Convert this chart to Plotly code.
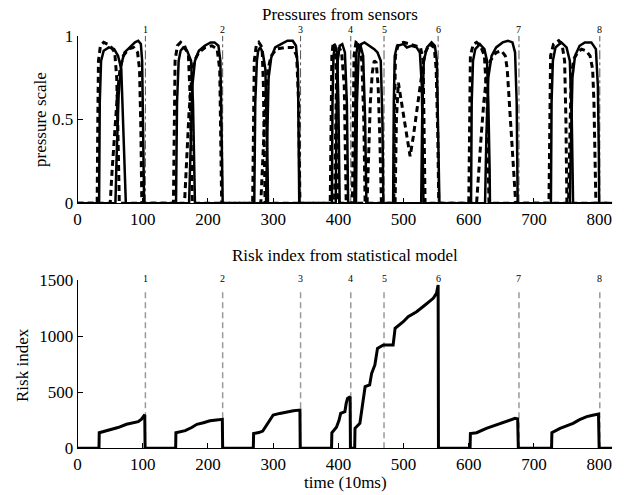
import plotly.graph_objects as go

# ---------------- data ----------------
event_t = [104, 222.5, 342, 419, 470, 553, 677, 801]
event_labels = ["1", "2", "3", "4", "5", "6", "7", "8"]

solid_a_t = [0, 33, 34, 36, 40, 48, 56, 62, 67, 70, 72, 74,
             151, 152.5, 155, 158, 162, 168, 174, 177, 179, 180,
             271, 272.5, 275, 277, 280, 284, 288, 290, 291.5, 292,
             390, 391, 392.5, 395, 398, 400, 401.5, 402,
             424.5, 425.5, 427, 430, 434, 438, 441, 443,
             484, 485, 486.5, 490, 500, 505, 512, 520, 525, 528, 530, 530.5,
             603.5, 604.5, 606.5, 610, 617, 624, 628, 630, 632, 632.5,
             726, 727, 729, 733, 742, 750, 755, 758, 760, 820]
solid_a_v = [0, 0, 0.6, 0.85, 0.91, 0.93, 0.92, 0.88, 0.8, 0.5, 0.2, 0,
             0, 0.6, 0.85, 0.91, 0.93, 0.91, 0.85, 0.6, 0.2, 0,
             0, 0.6, 0.85, 0.91, 0.93, 0.9, 0.8, 0.5, 0.2, 0,
             0, 0.6, 0.88, 0.94, 0.9, 0.6, 0.2, 0,
             0, 0.6, 0.88, 0.95, 0.94, 0.88, 0.5, 0,
             0, 0.6, 0.88, 0.94, 0.95, 0.93, 0.94, 0.93, 0.9, 0.7, 0.2, 0,
             0, 0.6, 0.85, 0.92, 0.95, 0.92, 0.85, 0.6, 0.2, 0,
             0, 0.6, 0.85, 0.93, 0.96, 0.93, 0.85, 0.5, 0, 0]

solid_b_t = [0, 58, 60, 63, 67, 72, 80, 88, 93, 97, 99, 100.5, 101.5, 102,
             171, 173, 176, 180, 186, 195, 204, 210, 216, 219, 221, 222, 222.5,
             289, 291, 293, 297, 303, 312, 322, 330, 335, 338, 339.5, 340,
             396, 397, 399, 402, 406, 410, 413, 414.5, 415,
             427, 428.5, 431, 435, 440, 448, 455, 460, 465, 467.5, 469,
             527, 528.5, 531, 536, 543, 548, 551, 553.5, 555,
             625, 627, 630, 635, 642, 652, 660, 667, 671, 673.5, 675,
             755, 757, 759, 763, 770, 778, 788, 795, 798, 799.5, 800, 820]
solid_b_v = [0, 0, 0.3, 0.65, 0.83, 0.9, 0.93, 0.96, 0.97, 0.95, 0.85, 0.5, 0.15, 0,
             0, 0.35, 0.7, 0.85, 0.91, 0.94, 0.96, 0.96, 0.94, 0.85, 0.5, 0.15, 0,
             0, 0.4, 0.75, 0.87, 0.93, 0.95, 0.97, 0.97, 0.94, 0.8, 0.4, 0,
             0, 0.5, 0.85, 0.94, 0.95, 0.9, 0.6, 0.2, 0,
             0, 0.6, 0.88, 0.95, 0.96, 0.94, 0.92, 0.9, 0.85, 0.5, 0,
             0, 0.5, 0.85, 0.93, 0.96, 0.94, 0.85, 0.4, 0,
             0, 0.4, 0.75, 0.88, 0.93, 0.96, 0.97, 0.96, 0.9, 0.6, 0,
             0, 0.4, 0.75, 0.88, 0.94, 0.96, 0.96, 0.92, 0.7, 0.3, 0, 0]

dashed_a_t = [0, 30, 31, 32, 35, 40, 46, 52, 57, 60, 62, 64,
              147, 148, 149.5, 153, 158, 164, 170, 173, 175, 176,
              268.5, 269.5, 271, 274, 278, 283, 285, 286.5, 287.5,
              387.5, 388.5, 390, 392, 395, 398, 399.5, 400,
              421.5, 422.5, 424, 427, 431, 436, 439, 441,
              485, 486, 487.5, 492, 500, 510, 520, 526, 530, 532, 533,
              600, 601, 602.5, 607, 612, 618, 624, 628, 630, 631,
              723, 724, 725.5, 730, 738, 743, 747, 749, 750.5, 820]
dashed_a_v = [0, 0, 0.5, 0.85, 0.94, 0.96, 0.95, 0.93, 0.9, 0.75, 0.4, 0,
              0, 0.5, 0.85, 0.94, 0.96, 0.94, 0.88, 0.6, 0.25, 0,
              0, 0.5, 0.85, 0.94, 0.96, 0.93, 0.7, 0.3, 0,
              0, 0.5, 0.88, 0.96, 0.94, 0.7, 0.3, 0,
              0, 0.5, 0.88, 0.96, 0.95, 0.85, 0.5, 0,
              0, 0.5, 0.88, 0.95, 0.96, 0.95, 0.94, 0.93, 0.85, 0.4, 0,
              0, 0.5, 0.88, 0.95, 0.96, 0.94, 0.88, 0.6, 0.2, 0,
              0, 0.5, 0.88, 0.95, 0.97, 0.95, 0.85, 0.5, 0, 0]

dashed_b_t = [0, 50, 53, 57, 61, 65, 70, 78, 86, 92, 95, 97, 98.5,
              164, 167, 171, 175, 179, 186, 196, 206, 214, 218, 220, 221,
              281, 284, 288, 292, 297, 305, 318, 330, 336, 339, 341,
              394, 395.5, 397.5, 401, 405, 409, 411, 412,
              444, 446.5, 449, 452, 455, 458, 461, 463.5, 466,
              487, 489, 492, 497, 503, 510, 515, 520, 525, 529, 533, 540, 547, 550, 552.5, 554,
              612, 615, 619, 623, 627, 633, 642, 650, 656, 659, 662, 666, 670, 672,
              753, 755, 757, 761, 767, 773, 780, 786, 790, 792, 794, 795, 820]
dashed_b_v = [0, 0, 0.2, 0.45, 0.65, 0.8, 0.88, 0.92, 0.93, 0.9, 0.8, 0.45, 0,
              0, 0.25, 0.55, 0.75, 0.85, 0.9, 0.93, 0.94, 0.92, 0.8, 0.4, 0,
              0, 0.3, 0.6, 0.8, 0.88, 0.92, 0.93, 0.93, 0.88, 0.6, 0,
              0, 0.5, 0.85, 0.93, 0.9, 0.7, 0.3, 0,
              0, 0.3, 0.6, 0.78, 0.85, 0.84, 0.7, 0.4, 0,
              0, 0.5, 0.72, 0.6, 0.45, 0.28, 0.4, 0.55, 0.7, 0.8, 0.9, 0.95, 0.93, 0.8, 0.4, 0,
              0, 0.2, 0.4, 0.6, 0.75, 0.85, 0.9, 0.91, 0.88, 0.8, 0.6, 0.35, 0.1, 0,
              0, 0.4, 0.75, 0.86, 0.9, 0.92, 0.91, 0.88, 0.8, 0.6, 0.2, 0, 0]

risk_t = [0, 32.8, 33.2, 40, 50, 62, 75, 85, 93, 98, 101, 103, 103.5,
          150.4, 150.8, 158, 165, 175, 183, 193, 203, 213, 222, 222.5,
          269.5, 270, 278, 284, 292, 300, 310, 320, 331, 341, 341.5,
          389.5, 390, 397, 401, 403.5, 410, 412, 414, 418, 418.5,
          425, 425.5, 433, 437, 441, 448, 451, 456, 460, 469, 484, 487, 494, 500, 507,
          520, 533, 540, 545.5, 550.5, 553, 553.5,
          602, 602.5, 612, 627, 648, 660, 671, 675, 676,
          727, 727.5, 740, 760, 770, 781, 790, 799, 800, 820]
risk_v = [0, 0, 139, 150, 163, 185, 214, 225, 237, 260, 291, 300, 0,
          0, 139, 145, 157, 185, 214, 228, 246, 253, 258, 0,
          0, 131, 140, 154, 230, 297, 311, 325, 335, 341, 0,
          0, 139, 187, 250, 312, 327, 400, 445, 460, 0,
          0, 178, 223, 400, 549, 565, 668, 743, 891, 921, 921, 1069, 1099, 1130, 1173,
          1217, 1277, 1310, 1337, 1381, 1455, 0,
          0, 131, 139, 178, 223, 245, 267, 262, 0,
          0, 139, 178, 223, 255, 282, 295, 306, 0, 0]

top_event_top = 1.0
bottom_event_top = 1400

# ---------------- figure ----------------
W, H = 624, 495
SERIF = "Liberation Serif"

fig = go.Figure()

def evline(tops):
    xs, ys = [], []
    for t in event_t:
        xs += [t, t, None]
        ys += [0, tops, None]
    return xs, ys

ex, ey = evline(top_event_top)
fig.add_trace(go.Scatter(x=ex, y=ey, mode="lines", xaxis="x", yaxis="y",
                         line=dict(color="#555555", width=1, dash="dashdot"), hoverinfo="skip"))
ex2, ey2 = evline(bottom_event_top)
fig.add_trace(go.Scatter(x=ex2, y=ey2, mode="lines", xaxis="x2", yaxis="y2",
                         line=dict(color="#999999", width=1.5, dash="6px,4px"), hoverinfo="skip"))

for tt, vv, dash, w in [(solid_a_t, solid_a_v, "solid", 2.5),
                        (solid_b_t, solid_b_v, "solid", 2.5),
                        (dashed_a_t, dashed_a_v, "6px,4px", 3),
                        (dashed_b_t, dashed_b_v, "6px,4px", 3)]:
    fig.add_trace(go.Scatter(x=tt, y=vv, mode="lines", xaxis="x", yaxis="y",
                             line=dict(color="black", width=w, dash=dash)))

fig.add_trace(go.Scatter(x=risk_t, y=risk_v, mode="lines", xaxis="x2", yaxis="y2",
                         line=dict(color="black", width=3)))

def px_x(p):
    return p / W

def px_y(p):
    return 1 - p / H

# event labels (x in data units, y in paper units just above each panel)
for t, lab in zip(event_t, event_labels):
    fig.add_annotation(x=t, y=px_y(30), xref="x", yref="paper", text=lab, showarrow=False,
                       xanchor="center", yanchor="middle",
                       font=dict(family=SERIF, size=10, color="black"))
    fig.add_annotation(x=t, y=px_y(278), xref="x2", yref="paper", text=lab, showarrow=False,
                       xanchor="center", yanchor="middle",
                       font=dict(family=SERIF, size=10, color="black"))

xdom = [px_x(77.6), px_x(612.2)]
axis_common = dict(showline=True, linecolor="black", linewidth=1, ticks="inside",
                   ticklen=5, tickcolor="black", showgrid=False, zeroline=False,
                   automargin=False,
                   tickfont=dict(family=SERIF, size=17, color="black"))

fig.update_layout(
    width=W, height=H, margin=dict(l=0, r=0, t=0, b=0, pad=0, autoexpand=False),
    autosize=False,
    paper_bgcolor="white", plot_bgcolor="white", showlegend=False,
    font=dict(family=SERIF, color="black"),
    xaxis=dict(domain=xdom, range=[0, 820], anchor="y", tickvals=[0, 100, 200, 300, 400, 500, 600, 700, 800],
               **axis_common),
    yaxis=dict(domain=[px_y(203.3), px_y(35.7)], range=[0, 1], anchor="x",
               tickvals=[0, 0.5, 1], ticktext=["0", "0.5", "1"], **axis_common),
    xaxis2=dict(domain=xdom, range=[0, 820], anchor="y2", tickvals=[0, 100, 200, 300, 400, 500, 600, 700, 800],
                **axis_common),
    yaxis2=dict(domain=[px_y(448.3), px_y(280)], range=[0, 1500], anchor="x2",
                tickvals=[0, 500, 1000, 1500], **axis_common),
)

ann_font = dict(family=SERIF, size=17, color="black")
def paper_text(x, y, text, angle=0):
    fig.add_annotation(x=px_x(x), y=px_y(y), xref="paper", yref="paper", text=text,
                       showarrow=False, textangle=angle, xanchor="center", yanchor="middle",
                       font=ann_font)

paper_text(340, 15, "Pressures from sensors")
paper_text(345, 255, "Risk index from statistical model")
paper_text(345, 482, "time (10ms)")
paper_text(40, 120, "pressure scale", -90)
paper_text(22, 365, "Risk index", -90)

fig.write_html("out.html", config={"responsive": False, "displayModeBar": False},
               post_script="document.body.style.margin='0';document.body.style.overflow='hidden';")
